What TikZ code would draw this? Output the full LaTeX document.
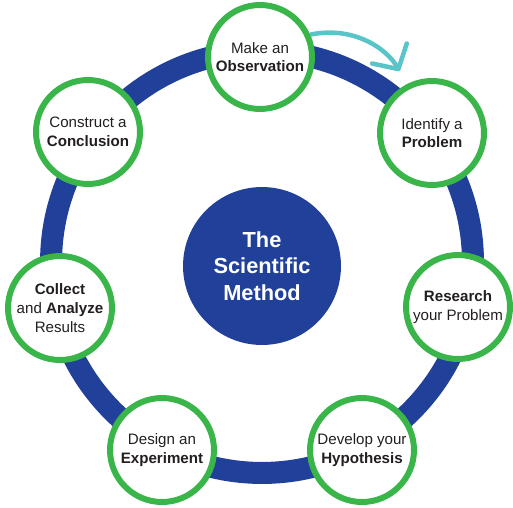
\documentclass[tikz,border=0pt]{standalone}
\usepackage{fontspec}
\setmainfont{Liberation Sans}
\usetikzlibrary{arrows.meta,backgrounds}

\definecolor{ringblue}{HTML}{21409A}
\definecolor{stepgreen}{HTML}{39B54A}
\definecolor{arrowteal}{HTML}{5AC5C8}
\definecolor{steptext}{HTML}{231F20}

\tikzset{
  stepnode/.style={circle,draw=stepgreen,line width=3.4pt,fill=white,
    minimum size=2.08cm,inner sep=0pt,align=center,text=steptext,
    font=\fontsize{8.6}{10.7}\selectfont},
  hubnode/.style={circle,fill=ringblue,minimum size=3.16cm,inner sep=0pt,
    align=center,text=white,font=\bfseries\fontsize{12.4}{15}\selectfont},
}

\begin{document}
\begin{tikzpicture}[x=0.02cm,y=-0.02cm]
\useasboundingbox (0,0) rectangle (513,507);

% the cycle
\draw[ringblue,line width=0.44cm] (262,262) circle [radius=4.22cm];
\node[hubnode] (hub) at (262,266) {The\\Scientific\\Method};

% the seven steps
\node[stepnode] (obs) at (260,57) {Make an\\\textbf{Observation}};
\node[stepnode] (idf) at (432,133) {Identify a\\\textbf{Problem}};
\node[stepnode] (res) at (458,307) {\textbf{Research}\\your Problem};
\node[stepnode] (hyp) at (362,450) {Develop your\\\textbf{Hypothesis}};
\node[stepnode] (exper) at (162,450) {Design an\\\textbf{Experiment}};
\node[stepnode] (coll) at (60,308) {\textbf{Collect}\\and \textbf{Analyze}\\Results};
\node[stepnode] (concl) at (88,132) {Construct a\\\textbf{Conclusion}};

% direction of the cycle
\begin{scope}[on background layer]
\draw[arrowteal,line width=0.09cm,-{Straight Barb[length=0.36cm,width=0.8cm,round]},shorten >=0.3cm] (obs.24) to[out=12,in=120] (idf.117);
\end{scope}
\end{tikzpicture}
\end{document}
